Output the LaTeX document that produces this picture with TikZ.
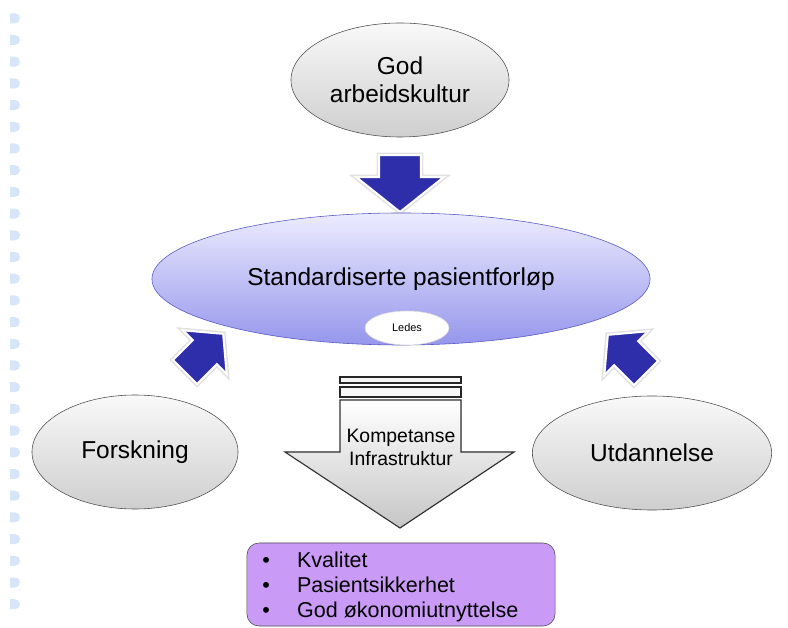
\documentclass[tikz,border=0pt]{standalone}
\usepackage{fontspec}
\setmainfont{Liberation Sans}
\usetikzlibrary{shapes.geometric}

\definecolor{dotblue}{RGB}{214,230,248}
\definecolor{arrowblue}{RGB}{46,46,170}
\definecolor{lavtop}{RGB}{236,236,255}
\definecolor{lavbottom}{RGB}{150,150,236}
\definecolor{lavline}{RGB}{85,85,195}
\definecolor{resultviolet}{RGB}{202,155,246}

\begin{document}
\begin{tikzpicture}[x=0.025cm, y=-0.025cm,
		grayball/.style={ellipse, draw=black!70, top color=gray!5, bottom color=gray!38, inner sep=0pt, align=center, font=\fontsize{17.4}{20}\selectfont},
		mainball/.style={ellipse, draw=lavline, top color=lavtop, bottom color=lavbottom, inner sep=0pt, font=\fontsize{17.4}{20}\selectfont},
		ledesball/.style={ellipse, draw=gray!30, fill=white, inner sep=0pt, font=\fontsize{7.8}{9}\selectfont},
		bluearrow/.style={fill=arrowblue, draw=white, line width=1.5pt, line join=miter, preaction={draw=gray!25, line width=3.5pt}},
		bigarrow/.style={draw=black!80, line width=0.8pt, top color=white, bottom color=gray!45},
		bar/.style={draw=black!85, line width=0.8pt, fill=gray!8},
		resultbox/.style={rectangle, rounded corners=0.3cm, draw=black!70, fill=resultviolet, inner sep=0pt}]
	\useasboundingbox (0,0) rectangle (788,628);
	
	% dots on the left edge
	\foreach \i in {0,...,27}{
		\fill[dotblue] (10,{18.3+21.7*\i-5}) -- (15,{18.3+21.7*\i-5}) arc[start angle=90, end angle=-90, radius=1.25mm] -- (10,{18.3+21.7*\i+5}) -- cycle;
	}
	
	\node[grayball, minimum width=5.45cm, minimum height=2.85cm] (kultur) at (400,80) {God\\arbeidskultur};
	\filldraw[bluearrow] (379,155) -- (421,155) -- (421,177) -- (444,177) -- (400,212) -- (356,177) -- (379,177) -- cycle;
	
	\node[mainball, minimum width=12.45cm, minimum height=3.3cm] (forlop) at (401,279) {Standardiserte pasientforløp};
	\node[ledesball, minimum width=2.1cm, minimum height=0.85cm] (ledes) at (407,328) {Ledes};
	
	\begin{scope}[shift={(185,372)}, rotate=45]
		\filldraw[bluearrow] (0,-17) -- (28,-17) -- (28,-31) -- (54,0) -- (28,31) -- (28,17) -- (0,17) -- cycle;
	\end{scope}
	\begin{scope}[shift={(646,373)}, rotate=135]
		\filldraw[bluearrow] (0,-17) -- (28,-17) -- (28,-31) -- (54,0) -- (28,31) -- (28,17) -- (0,17) -- cycle;
	\end{scope}
	
	\node[grayball, minimum width=5.15cm, minimum height=2.85cm] (forskning) at (135,452) {Forskning};
	\node[grayball, minimum width=5.98cm, minimum height=2.85cm] (utdannelse) at (652,453) {Utdannelse};
	
	% big arrow with the two bars
	\filldraw[bar] (340,377) rectangle (461,383);
	\filldraw[bar] (340,387) rectangle (461,397);
	\filldraw[bigarrow] (340,400) -- (461,400) -- (461,452) -- (514,452) -- (400,528) -- (285,452) -- (340,452) -- cycle;
	\node[align=center, font=\fontsize{13.8}{16.3}\selectfont] (tools) at (401,447) {Kompetanse\\Infrastruktur};
	
	\node[resultbox, minimum width=7.7cm, minimum height=2.075cm] (result) at (401,584.5) {};
	\node[anchor=west, align=left, inner sep=0pt, font=\fontsize{15.3}{17.7}\selectfont] (goals) at (262,587) {\makebox[24.8pt][l]{•}Kvalitet\\\makebox[24.8pt][l]{•}Pasientsikkerhet\\\makebox[24.8pt][l]{•}God økonomiutnyttelse};
\end{tikzpicture}
\end{document}
